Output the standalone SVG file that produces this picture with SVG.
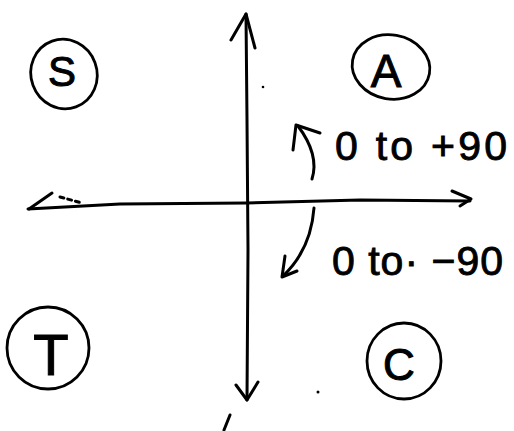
<svg xmlns="http://www.w3.org/2000/svg" width="514" height="431" viewBox="0 0 514 431">
<style>
.ln{fill:none;stroke:#000;stroke-width:3;stroke-linecap:round;stroke-linejoin:round}
.ring{fill:none;stroke:#000;stroke-width:2.8}
.lt{font-family:"Liberation Sans",Arial,sans-serif;fill:#000;stroke:#000;stroke-width:1;text-anchor:middle}
.lb{font-family:"Liberation Sans",Arial,sans-serif;fill:#000;stroke:#000;stroke-width:0.9;font-size:41px}
</style>
<rect width="514" height="431" fill="#fff"/>
<g id="connectors">
<path id="axis-v" class="ln" d="M246,14 L247,120 L248,250 L247,400"/>
<path class="ln" d="M231,40 L246,14 L255,48"/>
<path class="ln" d="M236,385 L247,400 L258,382"/>
<path id="axis-h" class="ln" d="M28,209 L120,204 L247,203 L360,200 L470,201"/>
<path class="ln" d="M452,191 L471,199 L460,206"/>
<path class="ln" d="M52,193 L29,209"/>
<path class="ln" d="M60,197 L82,203" stroke-dasharray="4 4" stroke-width="2"/>
<path id="arc-up" class="ln" d="M312,179 C318,160 310,142 298,126"/>
<path class="ln" d="M293,150 L296,125 L320,133"/>
<path id="arc-down" class="ln" d="M314,208 C312,235 302,258 283,276"/>
<path class="ln" d="M285,256 L282,277 L297,271"/>
</g>
<g id="node-S">
<ellipse class="ring" cx="64" cy="74" rx="33" ry="35" transform="rotate(-20 64 74)"/>
<text class="lt" x="62" y="86" font-size="42">S</text>
</g>
<g id="node-A">
<ellipse class="ring" cx="391" cy="67" rx="39" ry="32" transform="rotate(10 391 67)"/>
<text class="lt" x="386" y="87" font-size="46">A</text>
</g>
<g id="node-T">
<ellipse class="ring" cx="48" cy="348" rx="41" ry="41"/>
<text class="lt" x="51" y="375" font-size="58">T</text>
</g>
<g id="node-C">
<ellipse class="ring" cx="404" cy="361" rx="37" ry="38"/>
<text class="lt" x="399" y="380" font-size="44">C</text>
</g>
<g id="labels">
<text class="lb" x="335" y="160" textLength="172" lengthAdjust="spacing">0 to +90</text>
<text class="lb" x="332" y="275" textLength="171" lengthAdjust="spacing">0 to· −90</text>
</g>
<g id="marks">
<circle cx="263" cy="87" r="1.3" fill="#000"/>
<circle cx="318" cy="392" r="1.5" fill="#000"/>
<path class="ln" d="M230,415 L224,430" stroke-width="2"/>
</g>
</svg>
